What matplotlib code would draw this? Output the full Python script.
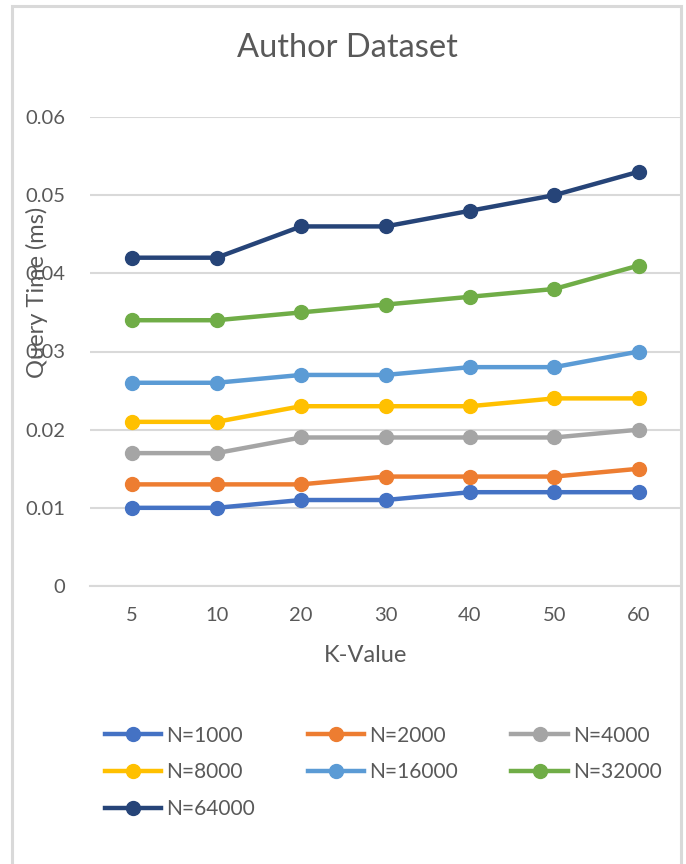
import matplotlib.pyplot as plt
from matplotlib.patches import Rectangle

# chart data
k_values = ['5', '10', '20', '30', '40', '50', '60']
series_names = ['N=1000', 'N=2000', 'N=4000', 'N=8000', 'N=16000', 'N=32000', 'N=64000']
n1000 = [0.010, 0.010, 0.011, 0.011, 0.012, 0.012, 0.012]
n2000 = [0.013, 0.013, 0.013, 0.014, 0.014, 0.014, 0.015]
n4000 = [0.017, 0.017, 0.019, 0.019, 0.019, 0.019, 0.020]
n8000 = [0.021, 0.021, 0.023, 0.023, 0.023, 0.024, 0.024]
n16000 = [0.026, 0.026, 0.027, 0.027, 0.028, 0.028, 0.030]
n32000 = [0.034, 0.034, 0.035, 0.036, 0.037, 0.038, 0.041]
n64000 = [0.042, 0.042, 0.046, 0.046, 0.048, 0.050, 0.053]
y_ticks = [0, 0.01, 0.02, 0.03, 0.04, 0.05, 0.06]
y_tick_labels = ['0', '0.01', '0.02', '0.03', '0.04', '0.05', '0.06']

colors = ['#4472C4', '#ED7D31', '#A5A5A5', '#FFC000', '#5B9BD5', '#70AD47', '#264478']
text_color = '#595959'
plt.rcParams['font.family'] = ['Lato', 'DejaVu Sans']

W, H = 686, 864
fig = plt.figure(figsize=(W / 100, H / 100), dpi=100)

# chart area border, open at the bottom
fig.patches.append(Rectangle((12 / W, -0.05), (681 - 12) / W, (H - 6) / H + 0.05,
                             transform=fig.transFigure, fill=False,
                             edgecolor='#D9D9D9', linewidth=2.2))

ax = fig.add_axes([90 / W, (H - 586) / H, (681 - 90) / W, (586 - 117) / H])

all_series = [n1000, n2000, n4000, n8000, n16000, n32000, n64000]
x = list(range(len(k_values)))
for name, vals, c in zip(series_names, all_series, colors):
    ax.plot(x, vals, color=c, linewidth=3.2, marker='o', markersize=10, label=name)

ax.set_xlim(-0.5, len(k_values) - 0.5)
ax.set_ylim(0, 0.06)
ax.set_yticks(y_ticks)
ax.set_yticklabels(y_tick_labels)
ax.set_xticks(x)
ax.set_xticklabels(k_values)
ax.yaxis.grid(True, color='#D9D9D9', linewidth=1.5)
ax.set_axisbelow(True)
for s in ['top', 'right', 'left']:
    ax.spines[s].set_visible(False)
ax.spines['bottom'].set_color('#D9D9D9')
ax.spines['bottom'].set_linewidth(1.5)
ax.tick_params(length=0, labelsize=14.5, colors=text_color)
ax.tick_params(axis='y', pad=18)
ax.tick_params(axis='x', pad=15)

fig.text(347 / W, 1 - 48 / H, 'Author Dataset', ha='center', va='center',
         fontsize=23.5, color=text_color)
fig.text(37 / W, 1 - 292 / H, 'Query Time (ms)', ha='center', va='center',
         rotation=90, fontsize=17, color=text_color)
fig.text(366 / W, 1 - 656 / H, 'K-Value', ha='center', va='center',
         fontsize=17, color=text_color)

# legend fills row by row like Excel
handles, labels = ax.get_legend_handles_labels()
order = [0, 3, 6, 1, 4, 2, 5]
fig.legend([handles[i] for i in order], [labels[i] for i in order], ncol=3,
           loc='upper left', bbox_to_anchor=(86 / W, 1 - 707 / H), frameon=False,
           fontsize=15, labelcolor=text_color, handlelength=2.7,
           handletextpad=0.25, columnspacing=2.55, labelspacing=0.8)

fig.savefig('out.png', dpi=100)
